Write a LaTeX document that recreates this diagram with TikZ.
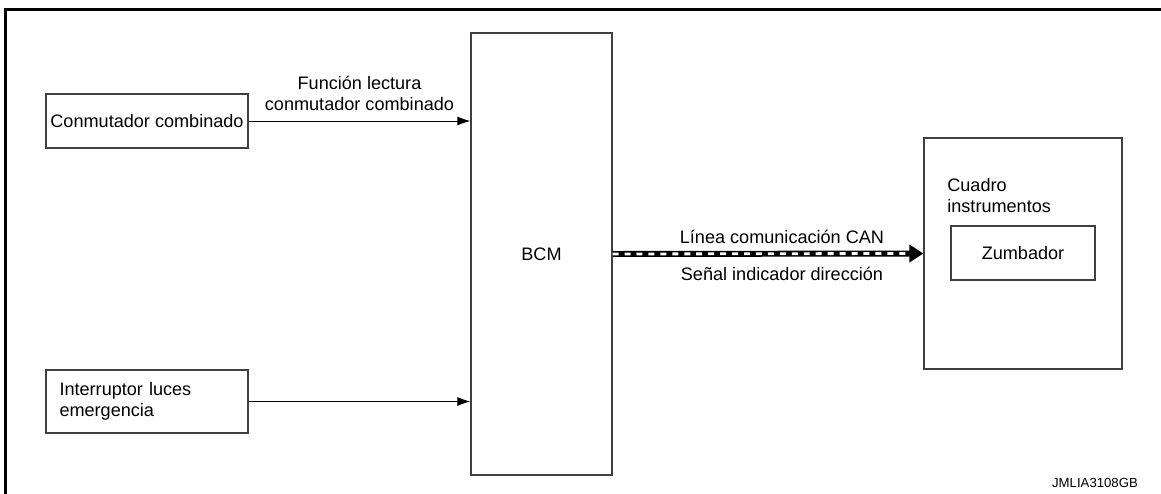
\documentclass[tikz,border=0pt]{standalone}
\usepackage{fontspec}
\setmainfont{Liberation Sans}
\usetikzlibrary{arrows.meta,positioning,calc}
\definecolor{boxgray}{RGB}{64,64,64}

\begin{document}
\begin{tikzpicture}[x=0.02cm,y=-0.02cm,font=\fontsize{10.3}{12}\selectfont,
 box/.style={draw=boxgray,line width=0.7pt,inner sep=0pt,align=center},
 arr/.style={-{Latex[length=2.6mm,width=1.8mm]},line width=0.55pt},
 canbus/.style={line width=3.4pt,-{Triangle[length=2.8mm,width=3.4mm]}},
 candash/.style={white,line width=1.6pt,dash pattern=on 3.4pt off 3.4pt}]
\useasboundingbox (0,0) rectangle (1161,494);
% frame
\draw[line width=1.7pt] (5.5,494) |- (1161,9.5);
\node[box,minimum width=4.04cm,minimum height=1.08cm] (conm) at (147,121) {Conmutador combinado};
\node[box,minimum width=4.04cm,minimum height=1.26cm,text width=3.5cm,inner xsep=0.27cm,align=left] (interr) at (147,401.5) {Interruptor luces\\emergencia};
\node[box,minimum width=2.82cm,minimum height=8.84cm] (bcm) at (541.5,254) {BCM};
\node[box,minimum width=3.96cm,minimum height=4.62cm] (cuadro) at (1023,253.5) {};
\node[anchor=north west,inner sep=0pt,align=left] (cuadrotxt) at (947,178) {Cuadro\\instrumentos};
\node[box,minimum width=2.88cm,minimum height=1.08cm] (zumb) at (1023,253) {Zumbador};
\draw[arr] (conm.east)--node[above=2pt,align=center]{Función lectura\\conmutador combinado}(conm.east -| bcm.west);
\draw[arr] (interr.east)--(interr.east -| bcm.west);
\draw[canbus] (bcm.east)--(cuadro.west);
\draw[candash] (bcm.east)--($(cuadro.west)+(-15,0)$);
\node[above=2pt] (canlbl) at ($(bcm.east)!0.545!(cuadro.west)$) {Línea comunicación CAN};
\node[below=4pt] (senlbl) at ($(bcm.east)!0.545!(cuadro.west)$) {Señal indicador dirección};
\node[font=\fontsize{7.5}{9}\selectfont] (code) at (1095,483) {JMLIA3108GB};
\end{tikzpicture}
\end{document}
